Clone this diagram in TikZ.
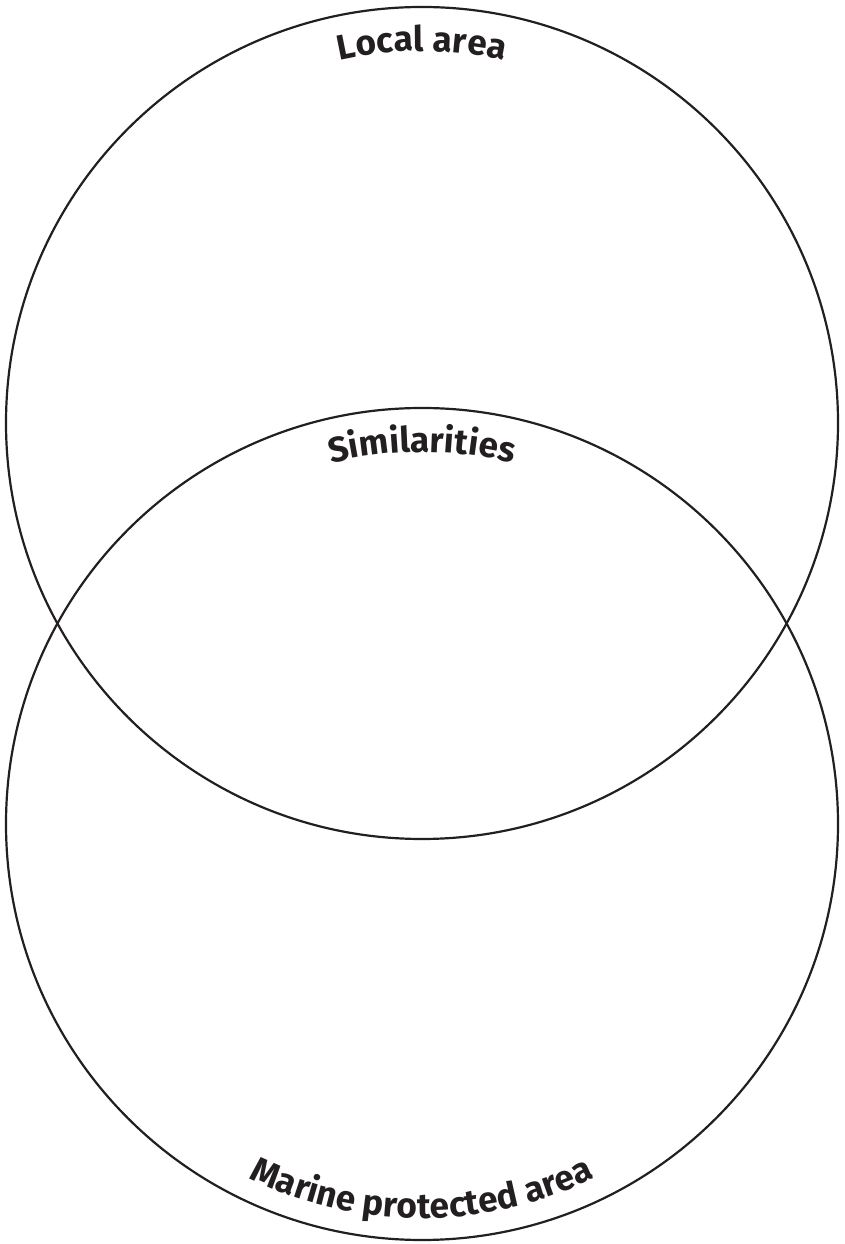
\documentclass[tikz,border=0pt]{standalone}
\usepackage{fontspec}
\setmainfont{Fira Sans}
\usepackage{xcolor}
\usetikzlibrary{decorations.text}

\definecolor{inkgray}{HTML}{231F20}
\newcommand{\labelfont}{\color{inkgray}\bfseries\fontsize{20}{24}\selectfont}

\begin{document}
\begin{tikzpicture}[
  x=0.02cm, y=0.02cm,
  ring/.style  = {draw=inkgray, line width=1.25pt},
  arctext/.style = {decorate, decoration={text along path, text align=center,
                    text={|\labelfont|#1}}},
]
\useasboundingbox (0,0) rectangle (845,1244);

% ---------- centres ----------
\coordinate (topc) at (422,821);
\coordinate (botc) at (422,420);

% ---------- rings ----------
\draw[ring] (topc) circle[radius=416];
\draw[ring] (botc) circle[radius=416];

% ---------- labels ----------
\begin{scope}[shift={(topc)}]
  \path[arctext={Local area}] (115:372) arc[start angle=115, end angle=65, radius=372];
\end{scope}
\begin{scope}[shift={(botc)}]
  \path[arctext={Similarities}] (120:372) arc[start angle=120, end angle=60, radius=372];
  \path[arctext={Marine protected area}] (235:394) arc[start angle=235, end angle=305, radius=394];
\end{scope}

\end{tikzpicture}
\end{document}
